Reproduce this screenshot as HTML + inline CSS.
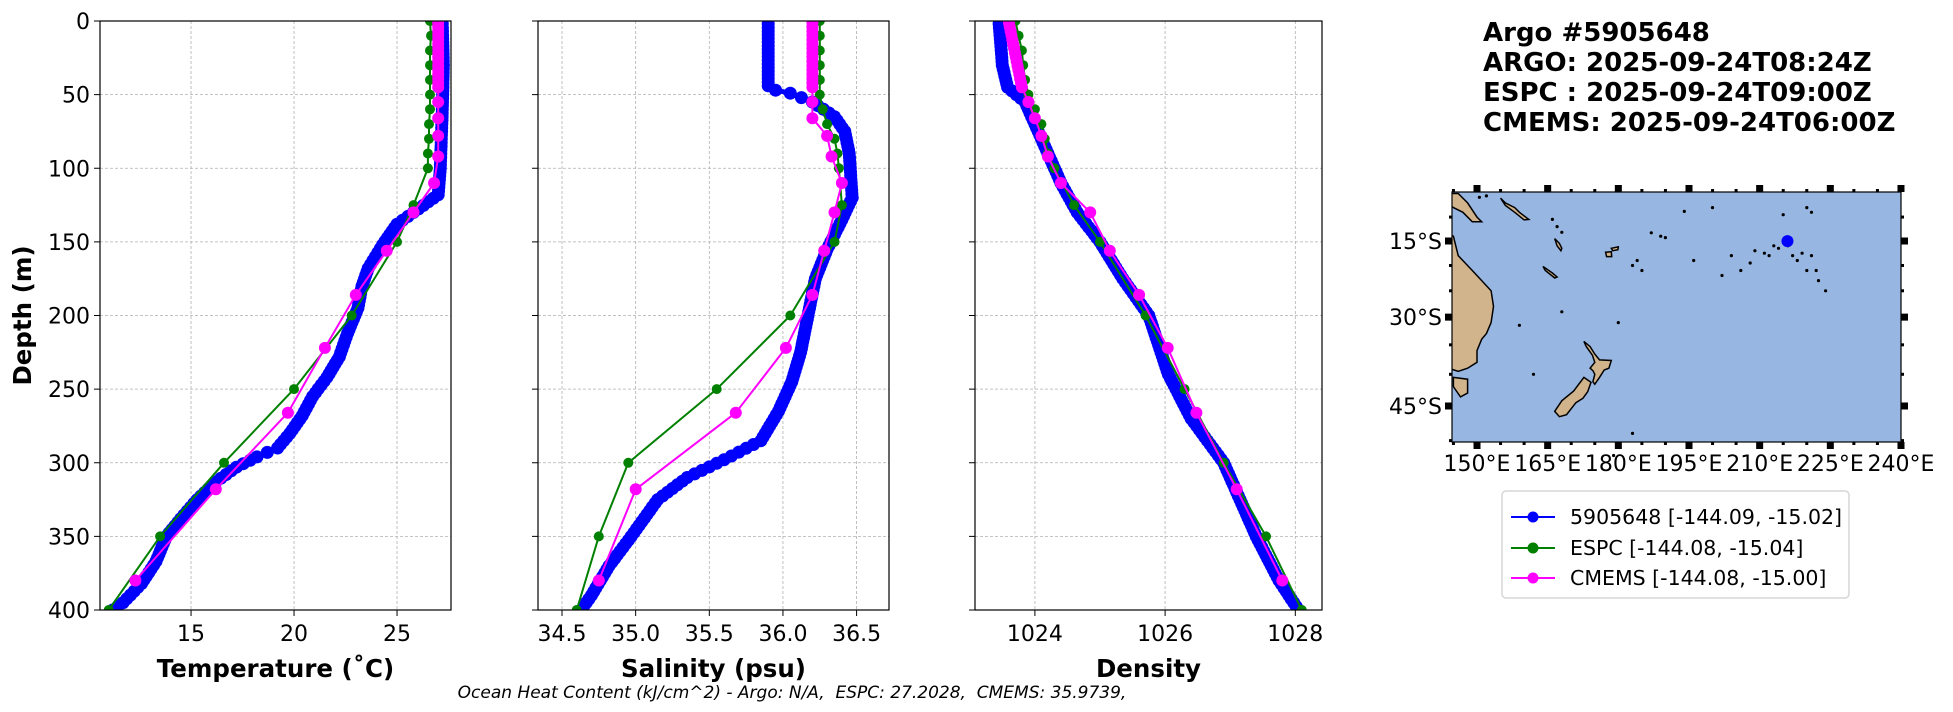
<!DOCTYPE html>
<html><head><meta charset="utf-8">
<style>
html,body{margin:0;padding:0;background:#fff;}
svg{display:block;font-family:"DejaVu Sans","Liberation Sans",sans-serif;}
</style></head>
<body>
<svg id="s" width="1953" height="712" xmlns="http://www.w3.org/2000/svg"></svg>
<script>
(function(){
const S=document.getElementById('s');let h='';
const TOP=21,BOT=610;const yd=d=>TOP+(BOT-TOP)*d/400;
function panel(L,R,x0,x1,ticks,fmt,label,showY){
 const xs=v=>L+(R-L)*(v-x0)/(x1-x0);
 for(const t of ticks){const x=xs(t);h+=`<line x1="${x}" y1="${TOP}" x2="${x}" y2="${BOT}" stroke="#b0b0b0" stroke-width="0.8" stroke-dasharray="3,2"/>`;
  h+=`<line x1="${x}" y1="${BOT}" x2="${x}" y2="${BOT+6}" stroke="#000" stroke-width="1"/>`;
  h+=`<text x="${x}" y="${BOT+31}" font-size="22" text-anchor="middle">${fmt(t)}</text>`;}
 for(let d=0;d<=400;d+=50){const y=yd(d);h+=`<line x1="${L}" y1="${y}" x2="${R}" y2="${y}" stroke="#b0b0b0" stroke-width="0.8" stroke-dasharray="3,2"/>`;
  h+=`<line x1="${L-6}" y1="${y}" x2="${L}" y2="${y}" stroke="#000" stroke-width="1"/>`;
  if(showY)h+=`<text x="${L-10}" y="${y+8}" font-size="22" text-anchor="end">${d}</text>`;}
 h+=`<text x="${(L+R)/2}" y="677" font-size="24.5" font-weight="bold" text-anchor="middle">${label}</text>`;
 return xs;
}
function interp(pts,step){const o=[];for(let i=0;i<pts.length-1;i++){const a=pts[i][0],da=pts[i][1],b=pts[i+1][0],db=pts[i+1][1];const n=Math.max(1,Math.round((db-da)/step));for(let k=0;k<n;k++){o.push([a+(b-a)*k/n,da+(db-da)*k/n]);}}o.push(pts[pts.length-1]);return o;}
function series(xs,pts,col,lw,r){let p=pts.map(q=>`${xs(q[0]).toFixed(1)},${yd(q[1]).toFixed(1)}`).join(' ');
 h+=`<polyline points="${p}" fill="none" stroke="${col}" stroke-width="${lw}" stroke-linejoin="round"/>`;
 for(const q of pts)h+=`<circle cx="${xs(q[0]).toFixed(1)}" cy="${yd(q[1]).toFixed(1)}" r="${r}" fill="${col}"/>`;}
function clip(id,L,R){h+=`<clipPath id="${id}"><rect x="${L}" y="${TOP}" width="${R-L}" height="${BOT-TOP}"/></clipPath>`;}
const P=[[100,451],[538,889],[975,1322]];
P.forEach((p,i)=>clip('c'+i,p[0],p[1]));
let xs=panel(100,451,10.58,27.62,[15,20,25],t=>t,'Temperature (˚C)',true);
h+=`<g clip-path="url(#c0)">`;
const tA=[[27.2,2],[27.25,30],[27.2,60],[27.1,100],[27.0,118],[25.8,130],[25,138],[24.3,152],[23.6,168],[23.3,180],[23.1,195],[22.6,212],[22.2,228],[21.6,242],[20.9,255],[20.4,268],[19.8,280],[19.2,290],[18.2,296],[17.2,303],[16.2,313],[15.3,325],[14.5,338],[13.8,350],[13.3,367],[12.6,382],[11.7,395],[11.2,400]];
series(xs,interp(tA,2.5),'#0000ff',5,6.5);
series(xs,[[26.6,0],[26.65,10],[26.6,20],[26.6,30],[26.6,40],[26.6,50],[26.6,60],[26.55,70],[26.55,80],[26.5,90],[26.5,100],[25.8,125],[25.0,150],[22.8,200],[20.0,250],[16.6,300],[13.5,350],[11.0,400]],'#008000',2,5);
series(xs,interp([[27.0,1],[27.0,45]],3).concat([[27.0,55],[27.0,66],[27.0,78],[27.0,92],[26.8,110],[25.8,130],[24.5,156],[23.0,186],[21.5,222],[19.7,266],[16.2,318],[12.3,380]]),'#ff00ff',2,6);
h+=`</g>`;
xs=panel(538,889,34.337,36.72,[34.5,35.0,35.5,36.0,36.5],t=>t.toFixed(1),'Salinity (psu)',false);
h+=`<g clip-path="url(#c1)">`;
const sA=[[35.9,2],[35.9,44],[35.95,47],[36.05,49],[36.2,55],[36.35,65],[36.42,75],[36.45,90],[36.47,120],[36.4,135],[36.3,155],[36.22,175],[36.17,200],[36.12,225],[36.06,245],[35.97,265],[35.85,285],[35.6,298],[35.35,310],[35.15,325],[34.97,350],[34.82,370],[34.7,390],[34.63,400]];
series(xs,interp(sA,2.5),'#0000ff',5,6.5);
series(xs,[[36.25,0],[36.25,10],[36.25,20],[36.25,30],[36.25,40],[36.25,50],[36.27,60],[36.3,70],[36.35,80],[36.37,90],[36.38,100],[36.4,125],[36.35,150],[36.05,200],[35.55,250],[34.95,300],[34.75,350],[34.6,400]],'#008000',2,5);
series(xs,interp([[36.2,1],[36.2,45]],3).concat([[36.2,55],[36.2,66],[36.3,78],[36.33,92],[36.4,110],[36.35,130],[36.28,156],[36.2,186],[36.02,222],[35.68,266],[35.0,318],[34.75,380]]),'#ff00ff',2,6);
h+=`</g>`;
xs=panel(975,1322,1023.08,1028.41,[1024,1026,1028],t=>t,'Density',false);
h+=`<g clip-path="url(#c2)">`;
const dA=[[1023.45,2],[1023.5,30],[1023.58,45],[1023.85,55],[1024.0,70],[1024.2,90],[1024.4,110],[1024.65,130],[1025.0,150],[1025.35,175],[1025.75,200],[1026.05,240],[1026.4,270],[1026.9,300],[1027.4,350],[1027.75,380],[1028.05,400]];
series(xs,interp(dA,2.5),'#0000ff',5,6.5);
series(xs,[[1023.7,0],[1023.75,10],[1023.8,20],[1023.82,30],[1023.85,40],[1023.9,50],[1024.0,60],[1024.1,70],[1024.15,80],[1024.2,90],[1024.3,100],[1024.6,125],[1025.0,150],[1025.7,200],[1026.3,250],[1026.9,300],[1027.55,350],[1028.1,400]],'#008000',2,5);
series(xs,interp([[1023.6,1],[1023.8,45]],3).concat([[1023.9,55],[1024.0,66],[1024.1,78],[1024.2,92],[1024.4,110],[1024.85,130],[1025.15,156],[1025.6,186],[1026.04,222],[1026.48,266],[1027.1,318],[1027.8,380]]),'#ff00ff',2,6);
h+=`</g>`;
P.forEach(p=>{h+=`<rect x="${p[0]}" y="${TOP}" width="${p[1]-p[0]}" height="${BOT-TOP}" fill="none" stroke="#000" stroke-width="1.2"/>`;});
const mid=(TOP+BOT)/2;
h+=`<text x="31" y="${mid}" font-size="24.5" font-weight="bold" text-anchor="middle" transform="rotate(-90 31 ${mid})">Depth (m)</text>`;
h+=`<text x="792" y="698" font-size="17" font-style="italic" text-anchor="middle" xml:space="preserve">Ocean Heat Content (kJ/cm^2) - Argo: N/A,  ESPC: 27.2028,  CMEMS: 35.9739,</text>`;
['Argo #5905648','ARGO: 2025-09-24T08:24Z','ESPC : 2025-09-24T09:00Z','CMEMS: 2025-09-24T06:00Z'].forEach((t,i)=>{h+=`<text x="1483" y="${41+i*30}" font-size="26" font-weight="bold" xml:space="preserve">${t}</text>`;});
const ML=1452,MR=1901,MT=192,MB=442;
const lx=l=>1477+(l-150)*4.711;
const f=v=>Math.log(Math.tan(Math.PI/4+v*Math.PI/360));
const fa=f(15),fb=f(45);
const ly=la=>241+(f(la)-fa)/(fb-fa)*(406-241);
h+=`<clipPath id="mc"><rect x="${ML}" y="${MT}" width="${MR-ML}" height="${MB-MT}"/></clipPath>`;
h+=`<rect x="${ML}" y="${MT}" width="${MR-ML}" height="${MB-MT}" fill="#97b6e1"/>`;
h+=`<g clip-path="url(#mc)" stroke="#000" stroke-width="1.5" fill="#d2b48c">`;
const pp=a=>a.map(q=>`${lx(q[0]).toFixed(1)},${ly(q[1]).toFixed(1)}`).join(' ');
h+=`<polygon points="${pp([[140,5],[146,5],[148,7],[150,10],[151,11],[149,11],[147,9],[145,8],[142,6]])}"/>`;
h+=`<polygon points="${pp([[140,12],[145,14],[146,18],[149,21],[151,23],[153,25],[153.5,28],[153,31],[152,33],[151,34],[150,36],[150,38],[148,39],[146,39.5],[140,38]])}"/>`;
h+=`<polygon points="${pp([[145,40.5],[148,40.8],[148,43],[146.5,43.6],[145,42]])}"/>`;
h+=`<polygon points="${pp([[172.7,34.4],[174,35.3],[175,36.6],[176,37.6],[178.5,37.7],[178,39],[177,39.3],[176,40.5],[175,41.6],[174.6,41.2],[175,40],[174.6,39.4],[174,39],[175,38],[174.5,36.8],[173.2,35.3]])}"/>`;
h+=`<polygon points="${pp([[172.7,40.5],[174.2,41.3],[173.5,42.8],[172.5,43.8],[171,44.5],[169,46.3],[167.5,46.6],[166.5,45.8],[168,44.2],[170.5,42.7]])}"/>`;
h+=`<polygon points="${pp([[155,6],[156,7],[158,8],[159,9],[161,10.5],[160,10.6],[158,9],[156,7.5]])}"/>`;
h+=`<polygon points="${pp([[164,20.2],[166,21.5],[167,22.3],[166.5,22.5],[164.5,21]])}"/>`;
h+=`<polygon points="${pp([[166.5,14.5],[167.5,15.5],[168,16.5],[167.8,17],[167,16]])}"/>`;
h+=`<polygon points="${pp([[177.3,17.3],[178.5,17.2],[178.6,18.2],[177.5,18.2]])}"/>`;
h+=`<polygon points="${pp([[178.5,16.5],[180,16.2],[179.9,16.8],[178.8,17]])}"/>`;
h+=`</g>`;
h+=`<g fill="#000">`;
[[150.5,5.8],[152,5.5],[166,10.5],[167,12],[168,13.2],[184,19],[183,20],[185,21],[187,13.3],[189,14],[190,14.3],[194,8.8],[196,19],[200,8],[202,22],[204,18],[206,21],[208,19.5],[209,17],[211,17.5],[212,18],[213,16],[214,16.5],[216,16],[217,18],[218,19],[219,17.5],[220,21],[221,18],[222,21],[222.5,23],[224,25],[220,8],[221,9],[180,31],[168,29],[159,31.5],[183,49],[179,52],[162,40],[215,9.5]].forEach(q=>{h+=`<circle cx="${lx(q[0]).toFixed(1)}" cy="${ly(q[1]).toFixed(1)}" r="1.6"/>`;});
h+=`</g>`;
h+=`<circle cx="${lx(215.9)}" cy="${ly(15.02)}" r="6" fill="#0000ff"/>`;
h+=`<rect x="${ML}" y="${MT}" width="${MR-ML}" height="${MB-MT}" fill="none" stroke="#000" stroke-width="1.2"/>`;
for(let l=150;l<=240;l+=15){const x=lx(l);h+=`<rect x="${x-3.5}" y="${MT-7}" width="7" height="7"/><rect x="${x-3.5}" y="${MB}" width="7" height="7"/>`;
 h+=`<text x="${x}" y="${MB+29}" font-size="22" text-anchor="middle">${l}°E</text>`;}
for(let l=145;l<=240;l+=5){if((l-150)%15===0)continue;const x=lx(l);h+=`<rect x="${x-1.5}" y="${MT-3}" width="3" height="3"/><rect x="${x-1.5}" y="${MB}" width="3" height="3"/>`;}
[[15,'15°S'],[30,'30°S'],[45,'45°S']].forEach(q=>{const y=ly(q[0]);h+=`<rect x="${ML-7}" y="${y-3.5}" width="7" height="7"/><rect x="${MR}" y="${y-3.5}" width="7" height="7"/>`;
 h+=`<text x="${ML-10}" y="${y+8}" font-size="22" text-anchor="end">${q[1]}</text>`;});
for(let la=10;la<=50;la+=5){if(la%15===0)continue;const y=ly(la);h+=`<rect x="${ML-3}" y="${y-1.5}" width="3" height="3"/><rect x="${MR}" y="${y-1.5}" width="3" height="3"/>`;}
h+=`<rect x="1502" y="491" width="347" height="107" rx="4" fill="#fff" stroke="#d6d6d6" stroke-width="1.5"/>`;
[['#0000ff','5905648 [-144.09, -15.02]',517],['#008000','ESPC [-144.08, -15.04]',548],['#ff00ff','CMEMS [-144.08, -15.00]',578]].forEach(q=>{
 h+=`<line x1="1511" y1="${q[2]}" x2="1555" y2="${q[2]}" stroke="${q[0]}" stroke-width="2"/><circle cx="1533" cy="${q[2]}" r="5.5" fill="${q[0]}"/>`;
 h+=`<text x="1570" y="${q[2]+7}" font-size="20.5">${q[1]}</text>`;});
S.innerHTML=h;
})();
</script>
</body></html>
